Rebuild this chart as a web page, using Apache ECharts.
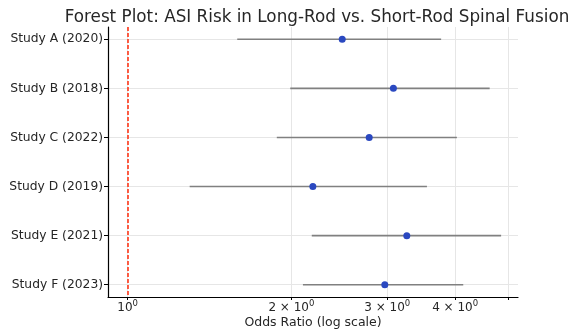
<!DOCTYPE html>
<html>
<head>
<meta charset="utf-8">
<script src="https://cdn.jsdelivr.net/npm/echarts@6/dist/echarts.min.js"></script>
<style>
    html, body { margin: 0; padding: 0; background: #fff; }
    #chart { width: 570px; height: 332px; }
</style>
</head>
<body>
<div id="chart"></div>
<script>
// data
var studies = ['Study A (2020)', 'Study B (2018)', 'Study C (2022)', 'Study D (2019)', 'Study E (2021)', 'Study F (2023)'];
var oddsRatio = [2.48, 3.08, 2.78, 2.19, 3.26, 2.97];
var ciLower = [1.59, 1.99, 1.88, 1.30, 2.18, 2.10];
var ciUpper = [3.77, 4.63, 4.03, 3.55, 4.86, 4.14];
var xTicks = [1, 2, 3, 4, 5];
var xTickLabels = ['10', '2 \u00d7 10', '3 \u00d7 10', '4 \u00d7 10', ''];
var rowIndex = studies.map(function (s, i) { return i; });

var ciData = rowIndex.map(function (i) { return [ciLower[i], ciUpper[i], i]; });
var pointData = rowIndex.map(function (i) { return [oddsRatio[i], i]; });

var font = 'DejaVu Sans';
var myChart = echarts.init(document.getElementById('chart'));
var option = {
    animation: false,
    title: {
        text: 'Forest Plot: ASI Risk in Long-Rod vs. Short-Rod Spinal Fusion',
        left: 312,
        top: 4,
        textAlign: 'center',
        textStyle: { fontFamily: font, fontSize: 16.8, fontWeight: 'normal', color: '#262626' }
    },
    grid: { left: 108, right: 52, top: 27, bottom: 35, containLabel: false, outerBoundsMode: 'none' },
    xAxis: {
        type: 'log',
        logBase: 10,
        min: 0.92,
        max: 5.22,
        name: 'Odds Ratio (log scale)',
        nameLocation: 'middle',
        nameGap: 19,
        nameMoveOverlap: false,
        nameTextStyle: { fontFamily: font, fontSize: 12.5, color: '#262626' },
        axisLine: { onZero: false, lineStyle: { color: '#000', width: 1.2 } },
        axisTick: { show: true, length: 3, customValues: xTicks, lineStyle: { color: '#000' } },
        axisLabel: {
            customValues: xTicks,
            fontFamily: font, fontSize: 12, color: '#262626', margin: 2,
            formatter: function (v) {
                var k = xTicks.indexOf(Math.round(v));
                if (k < 0 || !xTickLabels[k]) { return ''; }
                return '{b|' + xTickLabels[k] + '}{s|0}';
            },
            rich: {
                b: { fontFamily: font, fontSize: 12, color: '#262626', lineHeight: 15, verticalAlign: 'bottom' },
                s: { fontFamily: font, fontSize: 8.5, color: '#262626', lineHeight: 15, verticalAlign: 'top' }
            }
        },
        splitLine: { show: true, lineStyle: { color: '#e6e6e6', width: 1 } }
    },
    yAxis: {
        type: 'value',
        inverse: true,
        min: -0.25,
        max: 5.25,
        axisLine: { show: true, onZero: false, lineStyle: { color: '#000', width: 1.2 } },
        axisTick: { show: true, length: 4, customValues: rowIndex, lineStyle: { color: '#000' } },
        axisLabel: {
            customValues: rowIndex,
            fontFamily: font, fontSize: 12.3, color: '#262626', margin: 5,
            formatter: function (v) { return studies[Math.round(v)] || ''; }
        },
        splitLine: { show: true, lineStyle: { color: '#e6e6e6', width: 1 } }
    },
    series: [
        {
            type: 'custom',
            name: 'CI',
            data: ciData,
            encode: { x: [0, 1], y: 2 },
            renderItem: function (params, api) {
                var a = api.coord([api.value(0), api.value(2)]);
                var b = api.coord([api.value(1), api.value(2)]);
                return {
                    type: 'line',
                    shape: { x1: a[0], y1: a[1], x2: b[0], y2: b[1] },
                    style: { stroke: '#808080', lineWidth: 1.6 }
                };
            },
            z: 2
        },
        {
            type: 'scatter',
            name: 'OR',
            data: pointData,
            symbolSize: 7,
            itemStyle: { color: '#2a48c0', opacity: 1 },
            z: 3,
            markLine: {
                silent: true,
                symbol: 'none',
                label: { show: false },
                lineStyle: { color: '#ff2a0a', type: [4, 2], width: 1.5 },
                data: [{ xAxis: 1 }]
            }
        }
    ]
};
myChart.setOption(option);
</script>
</body>
</html>
